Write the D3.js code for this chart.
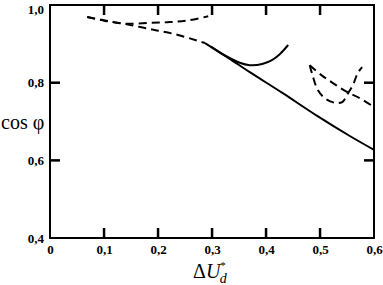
<!DOCTYPE html>
<html>
<head>
<meta charset="utf-8">
<script src="https://cdn.jsdelivr.net/npm/d3@7/dist/d3.min.js"></script>
<style>
  body { margin: 0; background: #fff; }
  svg { display: block; }
  text { font-family: "Liberation Serif", "DejaVu Serif", serif; fill: #000; }
</style>
</head>
<body>
<div id="chart"></div>
<script>
// values (x = ΔU'd, y = cos φ)
const upperDashed = [
  [0.069, 0.969], [0.102, 0.960], [0.139, 0.952], [0.185, 0.954],
  [0.222, 0.956], [0.259, 0.961], [0.293, 0.971]
];
const lowerDashed = [
  [0.069, 0.969], [0.102, 0.959], [0.139, 0.951], [0.185, 0.938],
  [0.231, 0.925], [0.287, 0.902]
];
const mainSolid = [
  [0.287, 0.902], [0.330, 0.864], [0.370, 0.827], [0.431, 0.773],
  [0.494, 0.715], [0.556, 0.662], [0.600, 0.627]
];
const arcSolid = [
  [0.298, 0.893], [0.324, 0.870], [0.350, 0.852], [0.370, 0.845],
  [0.393, 0.848], [0.411, 0.858], [0.426, 0.874], [0.441, 0.897]
];
const rightFall = [
  [0.481, 0.845], [0.502, 0.820], [0.524, 0.799], [0.550, 0.776],
  [0.574, 0.760], [0.600, 0.737]
];
const rightLoop = [
  [0.481, 0.845], [0.487, 0.815], [0.496, 0.781], [0.509, 0.760],
  [0.528, 0.748], [0.541, 0.750], [0.552, 0.773], [0.561, 0.794],
  [0.570, 0.825], [0.578, 0.840]
];

const xTicks = [0, 0.1, 0.2, 0.3, 0.4, 0.5, 0.6];
const yTicks = [0.4, 0.6, 0.8, 1.0];

const width = 383, height = 285;
const margin = { left: 50, right: 9, top: 5, bottom: 47 };
const tickLen = 10;

const svg = d3.select('#chart').append('svg')
  .attr('width', width)
  .attr('height', height);

const x = d3.scaleLinear().domain([0, 0.6]).range([margin.left, width - margin.right]);
const y = d3.scaleLinear().domain([0.4, 1.0]).range([height - margin.bottom, margin.top]);

const comma = d => d === 0 ? '0' : d3.format('.1f')(d).replace('.', ',');

// frame
svg.append('rect')
  .attr('x', x(0)).attr('y', y(1))
  .attr('width', x(0.6) - x(0)).attr('height', y(0.4) - y(1))
  .attr('fill', 'none').attr('stroke', '#000').attr('stroke-width', 2);

const styleAxis = g => {
  g.select('.domain').remove();
  g.selectAll('line').remove();
  g.selectAll('text').attr('font-size', 13).attr('font-weight', 'bold');
};

svg.append('g')
  .attr('transform', `translate(0,${y(0.4)})`)
  .call(d3.axisBottom(x).tickValues(xTicks).tickFormat(comma).tickSize(0).tickPadding(7))
  .call(styleAxis);

svg.append('g')
  .attr('transform', `translate(${x(0)},0)`)
  .call(d3.axisLeft(y).tickValues(yTicks).tickFormat(comma).tickSize(0).tickPadding(6))
  .call(styleAxis)
  .selectAll('text')
  .attr('dy', d => d === 1 ? '0.62em' : '0.32em');

// inward tick marks as small filled bars
const innerX = xTicks.slice(1, -1);
const innerY = yTicks.slice(1, -1);
const tickG = svg.append('g').attr('fill', '#000');

tickG.selectAll('rect.bottom').data(innerX).enter().append('rect')
  .attr('class', 'bottom')
  .attr('x', d => x(d) - 1.2).attr('y', y(0.4) - tickLen)
  .attr('width', 2.5).attr('height', tickLen);
tickG.selectAll('rect.top').data(innerX).enter().append('rect')
  .attr('class', 'top')
  .attr('x', d => x(d) - 1.2).attr('y', y(1))
  .attr('width', 2.5).attr('height', tickLen);
tickG.selectAll('rect.left').data(innerY).enter().append('rect')
  .attr('class', 'left')
  .attr('x', x(0)).attr('y', d => y(d) - 1.2)
  .attr('width', tickLen).attr('height', 2.5);
tickG.selectAll('rect.right').data(innerY).enter().append('rect')
  .attr('class', 'right')
  .attr('x', x(0.6) - tickLen).attr('y', d => y(d) - 1.2)
  .attr('width', tickLen).attr('height', 2.5);

// curves
const line = d3.line()
  .x(d => x(d[0]))
  .y(d => y(d[1]))
  .curve(d3.curveCatmullRom.alpha(0.5));

const plot = svg.append('g').attr('fill', 'none').attr('stroke', '#000');

[upperDashed, lowerDashed, rightFall, rightLoop].forEach(pts => {
  plot.append('path')
    .attr('d', line(pts))
    .attr('stroke-width', 2)
    .attr('stroke-dasharray', '8,5');
});

[mainSolid, arcSolid].forEach(pts => {
  plot.append('path')
    .attr('d', line(pts))
    .attr('stroke-width', 2);
});

// axis titles
svg.append('text')
  .attr('x', 1).attr('y', 129)
  .attr('font-size', 20)
  .text('cos φ');

const xTitle = svg.append('text')
  .attr('x', 193).attr('y', 278)
  .attr('font-size', 20);
xTitle.append('tspan').text('Δ');
xTitle.append('tspan').attr('font-style', 'italic').text('U');
xTitle.append('tspan').attr('font-size', 11).attr('dy', -9).text('*');
xTitle.append('tspan').attr('font-size', 14).attr('font-style', 'italic')
  .attr('dx', -6).attr('dy', 14).text('d');
</script>
</body>
</html>
